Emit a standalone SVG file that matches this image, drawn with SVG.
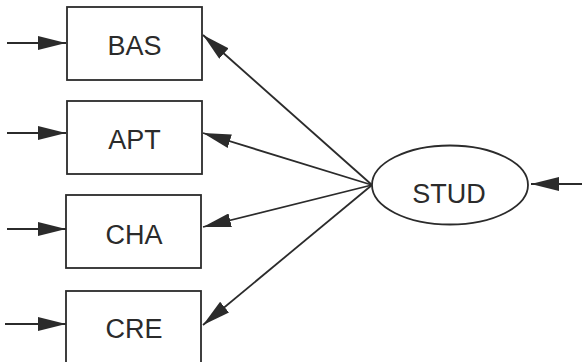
<svg xmlns="http://www.w3.org/2000/svg" width="582" height="362" viewBox="0 0 582 362">
<style>
.box{fill:#fff;stroke:#2b2b2b;stroke-width:1.8}
.lbl{font-family:"Liberation Sans",Arial,sans-serif;font-size:27px;fill:#2b2b2b;text-anchor:middle}
.edge{stroke:#2b2b2b;stroke-width:1.8;fill:none;marker-end:url(#ah)}
</style>
<defs>
<marker id="ah" markerUnits="userSpaceOnUse" markerWidth="28" markerHeight="14" refX="28" refY="7" orient="auto" viewBox="0 0 28 14">
<path d="M0,0 L28,7 L0,14 z" fill="#2b2b2b"/>
</marker>
</defs>
<rect width="582" height="362" fill="#fff"/>
<g id="connectors">
<line class="edge" x1="7" y1="43" x2="66" y2="43"/>
<line class="edge" x1="7" y1="133" x2="66" y2="133"/>
<line class="edge" x1="7" y1="229" x2="66" y2="229"/>
<line class="edge" x1="5" y1="324" x2="66" y2="324"/>
<line class="edge" x1="582" y1="184" x2="531" y2="184"/>
<line class="edge" x1="372" y1="185" x2="203" y2="35"/>
<line class="edge" x1="372" y1="185" x2="203" y2="133"/>
<line class="edge" x1="372" y1="185" x2="203" y2="227"/>
<line class="edge" x1="372" y1="185" x2="203" y2="325"/>
</g>
<g id="BAS">
<rect class="box" x="67" y="7" width="135" height="73"/>
<text class="lbl" x="134.5" y="55">BAS</text>
</g>
<g id="APT">
<rect class="box" x="67" y="101" width="135" height="73"/>
<text class="lbl" x="134.5" y="149">APT</text>
</g>
<g id="CHA">
<rect class="box" x="66" y="195" width="135" height="73"/>
<text class="lbl" x="134" y="244">CHA</text>
</g>
<g id="CRE">
<rect class="box" x="66" y="291" width="135" height="73"/>
<text class="lbl" x="134" y="338">CRE</text>
</g>
<g id="STUD">
<ellipse class="box" cx="450" cy="185" rx="78" ry="39.5"/>
<text class="lbl" x="449" y="203">STUD</text>
</g>
</svg>
